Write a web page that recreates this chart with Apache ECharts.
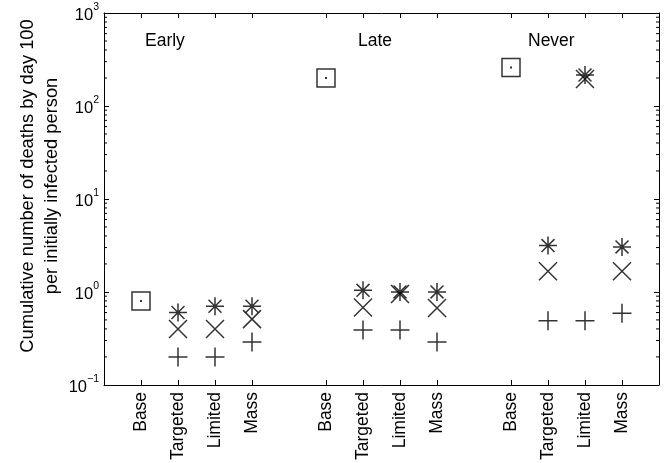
<!DOCTYPE html>
<html>
<head>
<meta charset="utf-8">
<script src="https://cdn.jsdelivr.net/npm/echarts@6/dist/echarts.min.js"></script>
<style>html,body{margin:0;padding:0;background:#fff}#c{width:664px;height:463px}</style>
</head>
<body>
<div id="c"></div>
<script>
const categories = ['', 'Base', 'Targeted', 'Limited', 'Mass', '', 'Base', 'Targeted', 'Limited', 'Mass', '', 'Base', 'Targeted', 'Limited', 'Mass', ''];
const groupNames = ['Early', 'Late', 'Never'];
const baseValues     = [null, 0.8, null, null, null, null, 200, null, null, null, null, 260, null, null, null, null];
const asteriskValues = [null, null, 0.6, 0.7, 0.7, null, null, 1.04, 1.0, 1.0, null, null, 3.15, 215, 3.05, null];
const crossValues    = [null, null, 0.4, 0.4, 0.51, null, null, 0.68, 0.95, 0.67, null, null, 1.67, 195, 1.67, null];
const plusValues     = [null, null, 0.2, 0.2, 0.29, null, null, 0.39, 0.39, 0.29, null, null, 0.49, 0.49, 0.59, null];
const yTickValues = [0.1, 1, 10, 100, 1000];
const minorTickValues = [];
[0.1, 1, 10, 100].forEach(d => { for (let k = 2; k <= 9; k++) minorTickValues.push(+(d * k).toPrecision(3)); });

const FONT = "'Liberation Sans', Arial, Helvetica, sans-serif";
const toPairs = arr => arr.map((v, i) => v == null ? null : [i, v]).filter(p => p);

const chart = echarts.init(document.getElementById('c'), null, {renderer: 'canvas'});
const lineStyle = {color: '#000', width: 1};
const tickFilter = (idx, val) => val !== '';

const markerStyle = {color: 'rgba(0,0,0,0)', borderColor: '#000', borderWidth: 1.5};

chart.setOption({
  animation: false,
  backgroundColor: '#fff',
  textStyle: {fontFamily: FONT},
  grid: {left: 104, right: 5, top: 13, bottom: 76, containLabel: false},
  xAxis: [{
    type: 'category', data: categories, boundaryGap: false, position: 'bottom',
    axisLine: {lineStyle: lineStyle},
    axisTick: {inside: true, length: 5, interval: tickFilter, lineStyle: lineStyle},
    axisLabel: {interval: 0, rotate: 90, fontSize: 17.5, color: '#000', margin: 7, fontFamily: FONT},
    splitLine: {show: false}
  }, {
    type: 'category', data: categories, boundaryGap: false, position: 'top',
    axisLine: {lineStyle: lineStyle},
    axisTick: {inside: true, length: 5, interval: tickFilter, lineStyle: lineStyle},
    axisLabel: {show: false}, splitLine: {show: false}
  }],
  yAxis: [{
    type: 'log', logBase: 10, min: 0.1, max: 1000, position: 'left',
    axisLine: {show: true, lineStyle: lineStyle},
    axisTick: {show: true, inside: true, length: 5, lineStyle: lineStyle},
    splitLine: {show: false},
    axisLabel: {
      color: '#000', fontSize: 16, margin: 5, fontFamily: FONT,
      formatter: v => {
        const e = Math.round(Math.log10(v));
        return '{b|10}{s|' + (e < 0 ? '\u2212' + (-e) : e) + '}';
      },
      rich: {
        b: {fontSize: 16.5, fontFamily: FONT, color: '#000', lineHeight: 22, verticalAlign: 'bottom', padding: [6, 0, 0, 0]},
        s: {fontSize: 10.5, fontFamily: FONT, color: '#000', lineHeight: 22, verticalAlign: 'top', padding: [0, 0, 0, 0]}
      }
    }
  }, {
    type: 'log', logBase: 10, min: 0.1, max: 1000, position: 'right',
    axisLine: {show: true, lineStyle: lineStyle},
    axisTick: {show: true, inside: true, length: 5, lineStyle: lineStyle},
    axisLabel: {show: false}, splitLine: {show: false}
  }],
  graphic: [
    {type: 'text', left: 145, top: 32, style: {text: groupNames[0], fontSize: 17.5, fontFamily: FONT, fill: '#000'}},
    {type: 'text', left: 358, top: 32, style: {text: groupNames[1], fontSize: 17.5, fontFamily: FONT, fill: '#000'}},
    {type: 'text', left: 528, top: 32, style: {text: groupNames[2], fontSize: 17.5, fontFamily: FONT, fill: '#000'}},
    {type: 'text', x: 40, y: 186, rotation: Math.PI / 2,
     style: {text: 'Cumulative number of deaths by day 100\nper initially infected person',
             fontSize: 18.3, lineHeight: 24, fontFamily: FONT, fill: '#000',
             align: 'center', verticalAlign: 'middle', textAlign: 'center', textVerticalAlign: 'middle'}}
  ],
  series: [
    {
      type: 'custom', silent: true, xAxisIndex: 0, yAxisIndex: 0,
      data: minorTickValues.map(v => [0, v]),
      renderItem: (params, api) => {
        const v = api.value(1);
        const l = api.coord([0, v]);
        const r = api.coord([categories.length - 1, v]);
        const st = {stroke: '#000', lineWidth: 1};
        return {type: 'group', children: [
          {type: 'line', shape: {x1: l[0], y1: l[1], x2: l[0] + 3, y2: l[1]}, style: st},
          {type: 'line', shape: {x1: r[0] - 3, y1: r[1], x2: r[0], y2: r[1]}, style: st}
        ]};
      }
    },
    {
      name: 'Base', type: 'scatter', silent: true, data: toPairs(baseValues),
      symbol: 'path://M0,0L10,0L10,10L0,10Z', symbolSize: 18,
      itemStyle: markerStyle
    },
    {
      name: 'BaseDot', type: 'scatter', silent: true, data: toPairs(baseValues),
      symbol: 'rect', symbolSize: 2, itemStyle: {color: '#000'}
    },
    {
      name: 'Asterisk', type: 'scatter', silent: true, data: toPairs(asteriskValues),
      symbol: 'path://M0,5L10,5M5,0L5,10M1.4,1.4L8.6,8.6M8.6,1.4L1.4,8.6', symbolSize: 18,
      itemStyle: markerStyle
    },
    {
      name: 'Cross', type: 'scatter', silent: true, data: toPairs(crossValues),
      symbol: 'path://M0,0L10,10M10,0L0,10', symbolSize: 18,
      itemStyle: markerStyle
    },
    {
      name: 'Plus', type: 'scatter', silent: true, data: toPairs(plusValues),
      symbol: 'path://M0,5L10,5M5,0L5,10', symbolSize: 19,
      itemStyle: markerStyle
    }
  ]
});
</script>
</body>
</html>
